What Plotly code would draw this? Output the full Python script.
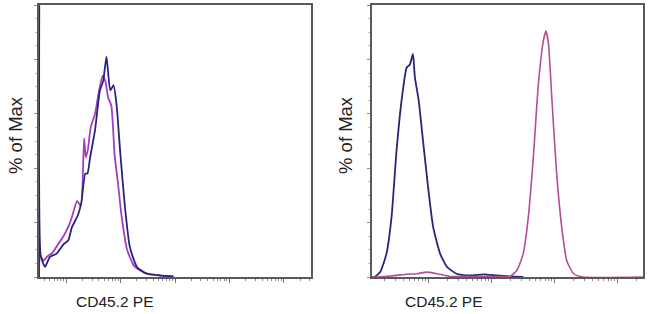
import numpy as np
import plotly.graph_objects as go

# ---- data (x in decades of fluorescence, y in % of Max) ----
left_navy_x = [0.0, 0.005, 0.03, 0.11, 0.2, 0.325, 0.45, 0.54, 0.6, 0.72, 0.78, 0.85, 0.89, 0.94,
               1.03, 1.12, 1.18, 1.24, 1.31, 1.37, 1.43, 1.49, 1.58, 1.67, 1.80, 1.98, 2.22, 2.47]
left_navy_y = [0, 100, 8, 3.7, 7.4, 8.6, 12, 13.5, 18, 23, 27.6, 38, 38, 44,
               54, 68.6, 72, 81, 68.6, 70.5, 62.5, 46.6, 25.7, 11, 3.7, 1.2, 0.6, 0.2]

left_mag_x = [0.0, 0.02, 0.08, 0.15, 0.25, 0.35, 0.45, 0.55, 0.62, 0.7, 0.77, 0.83, 0.86, 0.9, 0.95,
              1.03, 1.1, 1.17, 1.22, 1.27, 1.33, 1.39, 1.46, 1.52, 1.62, 1.75, 1.95, 2.2, 2.47]
left_mag_y = [0, 8, 6, 7.5, 9, 12, 15, 19, 23, 28, 26, 51, 44, 47, 55,
              60, 68, 74, 72, 66, 63, 45, 33, 22, 10, 4, 1.5, 0.6, 0.2]

right_navy_x = [0.0, 0.04, 0.13, 0.23, 0.31, 0.39, 0.47, 0.55, 0.60, 0.65, 0.68, 0.74, 0.81, 0.89,
                0.97, 1.08, 1.19, 1.34, 1.56, 1.77, 1.98, 2.19, 2.4]
right_navy_y = [0, 0, 1.8, 8.6, 22, 46.6, 65, 77, 78, 82, 73.5, 65, 50, 33,
                18.4, 8.6, 3.7, 1.2, 0.6, 1.0, 0.6, 0.2, 0.0]

right_mag_x = [0.0, 0.1, 0.39, 0.55, 0.71, 0.87, 1.03, 1.24, 1.6, 2.0, 2.19, 2.30, 2.40, 2.48,
               2.56, 2.64, 2.72, 2.76, 2.80, 2.85, 2.93, 3.01, 3.09, 3.20, 3.35, 4.3]
right_mag_y = [0, 0, 0.6, 1.0, 1.2, 1.8, 1.2, 0.2, 0.2, 0.2, 0.2, 2.5, 8.6, 22,
               44, 71, 87, 90.4, 85.8, 67, 38, 18.4, 6, 1.2, 0, 0]

left_major = [0.5, 1.5, 2.5, 3.5, 4.5]
right_major = [0.9, 1.9, 2.9, 3.9]
x_label = "CD45.2 PE"
y_label = "% of Max"

NAVY = "#25257a"
MAG = "#a43cc0"
MAG2 = "#b0508f"
FRAME = "#5a5a5a"


def minors(majors, lo, hi):
    out = []
    for m in majors + [majors[-1] + 1]:
        for k in range(2, 10):
            v = m - 1 + np.log10(k)
            if lo < v < hi:
                out.append(float(v))
    return out


def line(color, w=1.8):
    return dict(color=color, width=w, shape="spline", smoothing=0.5)


fig = go.Figure()
fig.add_trace(go.Scatter(x=left_mag_x, y=left_mag_y, mode="lines", line=line(MAG),
                         xaxis="x", yaxis="y", showlegend=False))
fig.add_trace(go.Scatter(x=left_navy_x, y=left_navy_y, mode="lines", line=line(NAVY),
                         xaxis="x", yaxis="y", showlegend=False))
fig.add_trace(go.Scatter(x=right_navy_x, y=right_navy_y, mode="lines", line=line(NAVY),
                         xaxis="x2", yaxis="y2", showlegend=False))
fig.add_trace(go.Scatter(x=right_mag_x, y=right_mag_y, mode="lines", line=line(MAG2, 1.6),
                         xaxis="x2", yaxis="y2", showlegend=False))

W, H = 650, 314
ydom = [1 - 277 / H, 1 - 5 / H]


def xax(dom, rng, majors, anchor):
    return dict(domain=dom, range=rng, anchor=anchor, showgrid=False, zeroline=False,
                showline=True, mirror=True, linecolor=FRAME, linewidth=1.5,
                tickmode="array", tickvals=majors, ticktext=[""] * len(majors),
                ticks="outside", ticklen=4, tickcolor="#777", tickwidth=1,
                minor=dict(tickmode="array", tickvals=minors(majors, rng[0], rng[1]),
                           ticks="outside", ticklen=2, tickcolor="#888", tickwidth=1, showgrid=False))


def yax(anchor):
    return dict(domain=ydom, range=[0, 100], anchor=anchor, showgrid=False, zeroline=False,
                showline=True, mirror=True, linecolor=FRAME, linewidth=1.5,
                tickmode="array", tickvals=[0, 20, 40, 60, 80, 100], ticktext=[""] * 6,
                ticks="outside", ticklen=3, tickcolor="#888", tickwidth=1,
                minor=dict(tickmode="array", tickvals=[v for v in range(5, 100, 5) if v % 20],
                           ticks="outside", ticklen=2, tickcolor="#bbb", tickwidth=1, showgrid=False))


fig.update_layout(
    width=W, height=H, margin=dict(l=0, r=0, t=0, b=0),
    paper_bgcolor="white", plot_bgcolor="white",
    xaxis=xax([39 / W, 311 / W], [0, 5], left_major, "y"),
    yaxis=yax("x"),
    xaxis2=xax([372 / W, 643 / W], [0, 4.3], right_major, "y2"),
    yaxis2=yax("x2"),
    font=dict(family="Liberation Sans, Arial, sans-serif", color="#222"),
    annotations=[
        dict(text=x_label, x=115 / W, y=1 - 301 / H, xref="paper", yref="paper",
             showarrow=False, font=dict(size=15.5), xanchor="center", yanchor="middle"),
        dict(text=x_label, x=444 / W, y=1 - 301 / H, xref="paper", yref="paper",
             showarrow=False, font=dict(size=15.5), xanchor="center", yanchor="middle"),
        dict(text=y_label, x=15 / W, y=1 - 135 / H, xref="paper", yref="paper", textangle=-90,
             showarrow=False, font=dict(size=18.5), xanchor="center", yanchor="middle"),
        dict(text=y_label, x=345 / W, y=1 - 135 / H, xref="paper", yref="paper", textangle=-90,
             showarrow=False, font=dict(size=18.5), xanchor="center", yanchor="middle"),
    ],
)

fig.write_html("out.html")
